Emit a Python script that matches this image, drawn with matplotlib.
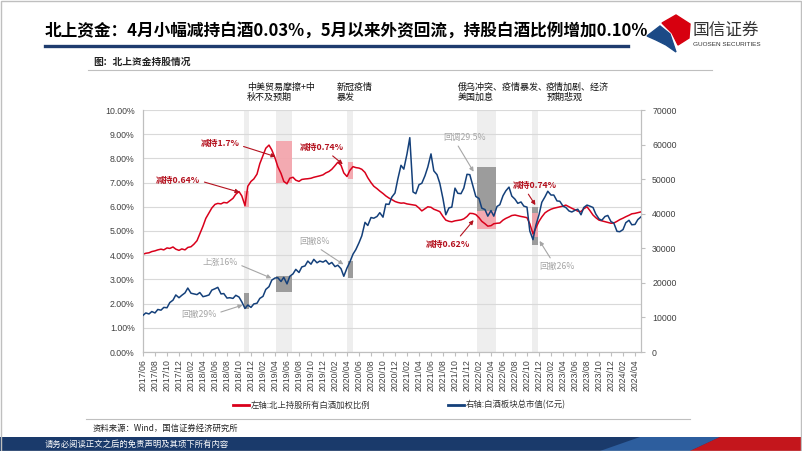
import numpy as np
import pandas as pd
import matplotlib
matplotlib.use('Agg')
import matplotlib.pyplot as plt
from matplotlib.patches import Rectangle, Polygon
from matplotlib.lines import Line2D
from matplotlib.ticker import FuncFormatter, MultipleLocator

plt.rcParams['font.family'] = ['Noto Sans CJK SC', 'DejaVu Sans']

# semi-monthly readings, 2017-06-01 .. 2024-05-01
red_pct = [
    4.04, 4.08, 4.10, 4.15, 4.18, 4.22, 4.25, 4.22, 4.30, 4.28,
    4.34, 4.25, 4.20, 4.26, 4.22, 4.32, 4.35, 4.45, 4.60, 4.88,
    5.20, 5.52, 5.75, 5.95, 6.10, 6.14, 6.12, 6.18, 6.16, 6.25,
    6.35, 6.52, 6.63, 6.45, 6.05, 6.85, 7.05, 7.15, 7.35, 7.78,
    8.12, 8.42, 8.55, 8.35, 8.02, 7.66, 7.38, 7.05, 6.95, 7.18,
    7.22, 7.10, 7.05, 7.13, 7.15, 7.16, 7.18, 7.22, 7.25, 7.28,
    7.32, 7.40, 7.46, 7.55, 7.70, 7.84, 7.72, 7.40, 7.25, 7.50,
    7.66, 7.62, 7.60, 7.55, 7.42, 7.20, 7.00, 6.85, 6.75, 6.65,
    6.55, 6.45, 6.36, 6.30, 6.22, 6.18, 6.15, 6.16, 6.12, 6.10,
    6.08, 6.06, 5.95, 5.83, 5.92, 6.00, 5.98, 5.90, 5.85, 5.80,
    5.60, 5.45, 5.40, 5.38, 5.42, 5.44, 5.46, 5.50, 5.60, 5.73,
    5.72, 5.68, 5.55, 5.40, 5.30, 5.20, 5.22, 5.30, 5.32, 5.33,
    5.45, 5.52, 5.58, 5.64, 5.66, 5.63, 5.60, 5.58, 5.55, 5.30,
    4.88, 5.12, 5.40, 5.58, 5.75, 5.83, 5.90, 5.94, 5.97, 6.00,
    6.03, 6.07, 6.00, 5.94, 5.88, 5.82, 5.80, 5.92, 6.00, 5.85,
    5.66, 5.55, 5.45, 5.42, 5.39, 5.36, 5.32, 5.33, 5.40, 5.47,
    5.53, 5.59, 5.65, 5.71, 5.73, 5.76, 5.79,
]
blue_cap = [
    10600, 11300, 11000, 11700, 11300, 12300, 12100, 12900, 12800, 14300,
    15000, 16500, 15700, 16400, 17100, 18500, 17000, 16800, 16600, 17200,
    16000, 16200, 16500, 17900, 18300, 18700, 16800, 16900, 15600, 15700,
    15500, 16400, 15900, 14500, 12600, 13600, 12900, 13900, 14100, 15500,
    16100, 18100, 18900, 20800, 21400, 21500, 20400, 21600, 19700, 21900,
    22600, 23900, 23000, 24600, 24900, 26300, 25400, 26800, 25800, 26300,
    26000, 26500, 25400, 25900, 24700, 25100, 24100, 21900, 24300, 26000,
    28300, 29600, 31600, 33600, 37500, 36600, 38900, 38700, 39200, 40300,
    39000, 42800, 42700, 44800, 46000, 50000, 54000, 52900, 57300, 62000,
    46300, 45800, 48400, 48800, 51000, 53500, 57300, 52400, 51300, 48800,
    44300, 39700, 41700, 41900, 47400, 45900, 45800, 47400, 51400, 51300,
    47900, 45000, 44400, 41600, 41200, 39300, 40900, 39300, 42100, 42600,
    45200, 46600, 47700, 45100, 44200, 43000, 43400, 42200, 41900, 35000,
    32500, 36600, 39700, 43300, 44900, 46500, 45400, 45400, 43700, 43600,
    42200, 41800, 40800, 40500, 41000, 41300, 39700, 41800, 42500, 42200,
    41800, 39900, 38500, 38100, 39200, 39500, 37700, 37300, 34900, 34800,
    35400, 37400, 38100, 36800, 36900, 38300, 39100,
]

# highlighted windows (months since 2017/06)
bands = [(16.8, 17.6), (22.2, 24.9), (34.0, 35.0), (55.6, 58.9), (64.9, 65.9)]
pink_boxes = [(16.9, 17.6, 6.00, 6.65), (22.2, 24.9, 7.00, 8.73), (34.15, 35.0, 7.14, 7.86),
              (55.6, 58.9, 5.10, 5.83), (64.9, 65.9, 4.75, 5.75)]
gray_boxes = [(16.75, 17.6, 12550, 17190), (22.2, 24.9, 17380, 21920), (34.15, 35.0, 21530, 26260),
              (55.6, 58.9, 40840, 53390), (64.9, 65.9, 30900, 42000)]

events = [("中美贸易摩擦+中\n秋不及预期", 17.37), ("新冠疫情\n暴发", 32.25),
          ("俄乌冲突、疫情暴发、\n美国加息", 52.4), ("疫情加剧、经济\n预期悲观", 67.2)]

# text, text(x,y), tip(x,y), relpos
red_notes = [("减持0.64%", (2.2, 7.07), (16.1, 6.6), (1, 0.5)),
             ("减持1.7%", (9.6, 8.62), (22.1, 8.07), (1, 0.3)),
             ("减持0.74%", (26.1, 8.44), (33.3, 7.76), (0.65, 0)),
             ("减持0.62%", (47.2, 4.45), (55.1, 5.45), (0.7, 1)),
             ("减持0.74%", (61.6, 6.87), (65.4, 6.07), (0.3, 0))]
gray_notes = [("回撤29%", (6.4, 1.56), (16.6, 1.94), (1, 0.6)),
              ("上涨16%", (9.9, 3.71), (21.4, 3.05), (1, 0.3)),
              ("回撤8%", (26.0, 4.56), (33.4, 3.62), (0.55, 0)),
              ("回调29.5%", (50.0, 8.86), (55.1, 7.45), (0.3, 0)),
              ("回撤26%", (66.1, 3.54), (66.1, 4.59), (0.37, 1))]

RED = '#D9001B'
BLUE = '#14407A'
NOTE_RED = '#B4121F'
NOTE_GRAY = '#A6A6A6'
GRID = '#D9D9D9'

dates = pd.date_range('2017-06-01', periods=len(red_pct), freq='SMS')
t = (dates.year - 2017) * 12 + (dates.month - 6) + (dates.day - 1) / 30.0
tick_dates = pd.date_range('2017-06-01', '2024-04-01', freq='2MS')
tick_t = (tick_dates.year - 2017) * 12 + (tick_dates.month - 6)
tick_labels = [d.strftime('%Y/%m') for d in tick_dates]

W, H = 802, 451
fig = plt.figure(figsize=(W / 100, H / 100), dpi=100)

def fx(x):
    return x / W

def fy(y):
    return 1 - y / H

ax = fig.add_axes([fx(143), fy(352), (641 - 143) / W, (352 - 110) / H])
ax2 = ax.twinx()
ax.set_xlim(0, 83)
ax.set_ylim(0, 10)
ax2.set_ylim(0, 70000)

for a, b in bands:
    ax.axvspan(a, b, color='#EEEEEE', zorder=0, lw=0)
for x0, x1, y0, y1 in gray_boxes:
    ax.add_patch(Rectangle((x0, y0), x1 - x0, y1 - y0, transform=ax2.transData,
                           facecolor='#9C9C9C', lw=0, zorder=1))
for x0, x1, y0, y1 in pink_boxes:
    ax.add_patch(Rectangle((x0, y0), x1 - x0, y1 - y0, facecolor='#F4A3AB',
                           alpha=0.9, lw=0, zorder=1.5))

ax.plot(t, red_pct, color=RED, lw=1.1, zorder=3)
ax2.plot(t, blue_cap, color=BLUE, lw=1.1, zorder=3)

ax.yaxis.set_major_locator(MultipleLocator(1))
ax.yaxis.set_major_formatter(FuncFormatter(lambda v, _: f'{v:.2f}%'))
ax.grid(axis='y', color=GRID, lw=0.8)
ax.set_axisbelow(True)
ax2.yaxis.set_major_locator(MultipleLocator(10000))
ax2.yaxis.set_major_formatter(FuncFormatter(lambda v, _: f'{v:.0f}'))

ax.set_xticks(tick_t)
ax.set_xticklabels(tick_labels, rotation=90, fontsize=6.3, color='#404040',
                   family='Liberation Sans')
ax.tick_params(axis='x', length=3, color='#BFBFBF', pad=2)
ax.tick_params(axis='y', length=0, labelsize=6.3, labelcolor='#404040', pad=6)
ax2.tick_params(axis='y', length=3, color='#BFBFBF', labelsize=6.3, labelcolor='#404040', pad=5)
for lab in ax.get_yticklabels() + ax2.get_yticklabels():
    lab.set_family('Liberation Sans')

for a in (ax, ax2):
    a.spines['top'].set_visible(False)
    for s in ('left', 'right', 'bottom'):
        a.spines[s].set_color('#BFBFBF')
        a.spines[s].set_linewidth(0.8)

for txt, (xt, yt), tip, rp in red_notes:
    ax.annotate(txt, xy=tip, xytext=(xt, yt), ha='left', va='center', fontsize=6.3,
                fontweight='bold', color=NOTE_RED, zorder=6,
                arrowprops=dict(arrowstyle='-|>', color=NOTE_RED, lw=0.8, mutation_scale=6,
                                shrinkA=1, shrinkB=0, relpos=rp))
for txt, (xt, yt), tip, rp in gray_notes:
    ax.annotate(txt, xy=tip, xytext=(xt, yt), ha='left', va='center', fontsize=6.3,
                color=NOTE_GRAY, zorder=6,
                arrowprops=dict(arrowstyle='-|>', color=NOTE_GRAY, lw=0.8, mutation_scale=6,
                                shrinkA=1, shrinkB=0, relpos=rp))
for txt, xt in events:
    ax.text(xt, 10.72, txt, ha='left', va='center', fontsize=6.5, color='#111111',
            linespacing=1.15, clip_on=False)

# header
fig.text(fx(45), fy(31), "北上资金：4月小幅减持白酒0.03%，5月以来外资回流，持股白酒比例增加0.10%",
         fontsize=12, fontweight='bold', color='#000000', va='center', ha='left')
fig.add_artist(Line2D([fx(45), fx(628)], [fy(46), fy(46)], color='#1F3C6E', lw=2.4))
fig.add_artist(Polygon([(fx(662), fy(23)), (fx(676), fy(15)), (fx(690), fy(24)), (fx(689), fy(38)),
                        (fx(678), fy(45)), (fx(672), fy(33))], closed=True, color='#D7000F'))
fig.add_artist(Polygon([(fx(647), fy(36)), (fx(660), fy(26)), (fx(670), fy(34)), (fx(676), fy(52)),
                        (fx(666), fy(45)), (fx(656), fy(40))], closed=True, color='#1C4A86'))
fig.text(fx(693), fy(30), "国信证券", fontsize=12, color='#333333', va='center', ha='left')
fig.text(fx(693), fy(45), "GUOSEN SECURITIES", fontsize=4.6, color='#333333', va='center', ha='left',
         family='Liberation Sans')
fig.text(fx(93), fy(62), "图：北上资金持股情况", fontsize=7, fontweight='bold', color='#222222',
         va='center', ha='left')
fig.add_artist(Line2D([fx(88), fx(712)], [fy(70), fy(70)], color='#BFBFBF', lw=0.8))

# legend
fig.add_artist(Line2D([fx(233), fx(249)], [fy(405), fy(405)], color=RED, lw=2))
fig.text(fx(251), fy(405), "左轴:北上持股所有白酒加权比例", fontsize=6, color='#333333', va='center')
fig.add_artist(Line2D([fx(448), fx(464)], [fy(405), fy(405)], color=BLUE, lw=2))
fig.text(fx(466), fy(405), "右轴:白酒板块总市值(亿元)", fontsize=6, color='#333333', va='center')

# footer
fig.add_artist(Line2D([fx(86), fx(690)], [fy(419), fy(419)], color='#BFBFBF', lw=0.8))
fig.text(fx(93), fy(428), "资料来源：Wind，国信证券经济研究所", fontsize=6, color='#222222', va='center')
fig.add_artist(Rectangle((0, 0), 1, fy(437), transform=fig.transFigure, color='#1A3A6B', lw=0))
fig.add_artist(Polygon([(fx(600), 0), (fx(640), fy(437)), (fx(720), fy(437)), (fx(690), 0)],
                       closed=True, transform=fig.transFigure, color='#2D5E9E', lw=0))
fig.add_artist(Polygon([(fx(690), 0), (fx(720), fy(437)), (1, fy(437)), (1, 0)],
                       closed=True, transform=fig.transFigure, color='#C4161C', lw=0))
fig.text(fx(45), fy(444), "请务必阅读正文之后的免责声明及其项下所有内容", fontsize=6, color='white', va='center')
fig.add_artist(Rectangle((0.001, 0.001), 0.998, 0.997, transform=fig.transFigure, fill=False,
                         edgecolor='#BFBFBF', lw=1))

fig.savefig('out.png', dpi=100)
